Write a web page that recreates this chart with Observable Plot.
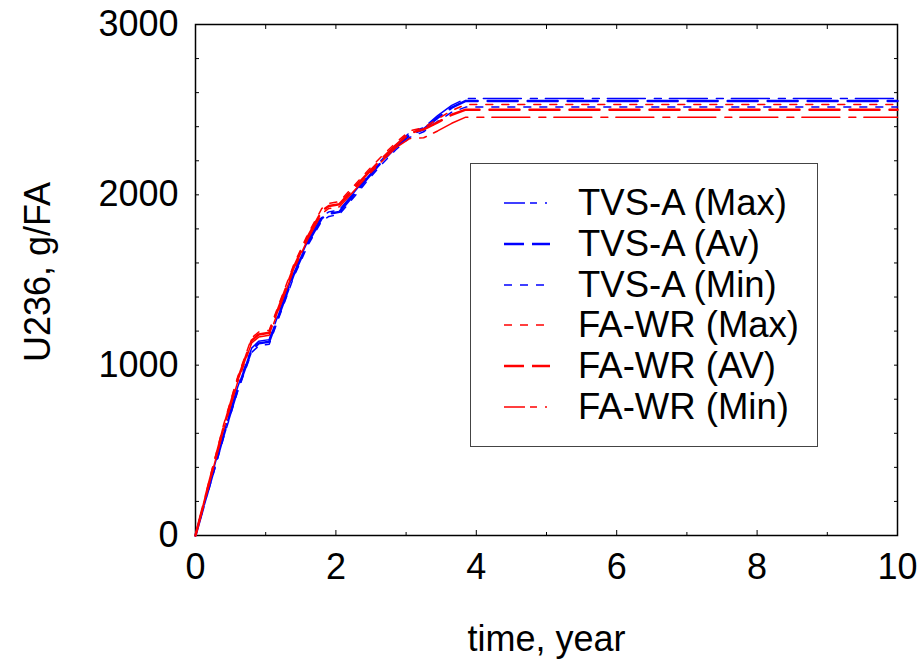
<!DOCTYPE html>
<html><head><meta charset="utf-8">
<script src="https://cdn.jsdelivr.net/npm/d3@7"></script>
<script src="https://cdn.jsdelivr.net/npm/@observablehq/plot@0.6"></script>
<style>
body{margin:0;background:#fff;font-family:"Liberation Sans",Arial,sans-serif;}
#wrap{position:relative;width:919px;height:661px;overflow:hidden;}
#legend{position:absolute;left:470px;top:163px;width:348px;height:284px;border:1.5px solid #444;background:#fff;box-sizing:border-box;}
.row{position:absolute;left:0;height:40px;display:flex;align-items:center;}
.row svg{margin-left:33px;display:block}
.row span{margin-left:26px;font-size:36.5px;color:#000;line-height:40px;white-space:nowrap}
</style></head><body><div id="wrap"></div>
<script>
const times   = [0, 0.2, 0.4, 0.6, 0.8, 0.9, 1.05, 1.2, 1.4, 1.6, 1.8, 1.9, 2.05, 2.25, 2.45, 2.65, 2.85, 3.05, 3.25, 3.45, 3.65, 3.85, 10];
const tvsMax  = [0, 305, 600, 870, 1100, 1140, 1150, 1320, 1545, 1730, 1875, 1900, 1912, 2010, 2110, 2205, 2290, 2365, 2395, 2465, 2525, 2565, 2565];
const tvsAv   = [0, 295, 588, 858, 1088, 1128, 1138, 1308, 1533, 1718, 1863, 1888, 1900, 1998, 2098, 2193, 2278, 2352, 2385, 2452, 2512, 2551, 2551];
const tvsMin  = [0, 285, 575, 845, 1075, 1113, 1123, 1293, 1518, 1703, 1848, 1873, 1885, 1983, 2083, 2178, 2263, 2337, 2370, 2432, 2485, 2515, 2515];
const fawrMax = [0, 330, 650, 930, 1160, 1195, 1205, 1370, 1590, 1770, 1920, 1950, 1960, 2050, 2140, 2225, 2305, 2375, 2395, 2445, 2495, 2530, 2530];
const fawrAv  = [0, 320, 635, 915, 1145, 1180, 1190, 1355, 1575, 1755, 1905, 1935, 1945, 2035, 2125, 2210, 2290, 2362, 2385, 2425, 2470, 2500, 2500];
const fawrMin = [0, 312, 622, 900, 1130, 1165, 1175, 1340, 1560, 1740, 1890, 1920, 1930, 2020, 2110, 2195, 2275, 2330, 2335, 2375, 2420, 2456, 2456];
const seriesNames = ["TVS-A (Max)", "TVS-A (Av)", "TVS-A (Min)", "FA-WR (Max)", "FA-WR (AV)", "FA-WR (Min)"];
const xMajorTicks = [0, 2, 4, 6, 8, 10];
const xMinorTicks = [1, 3, 5, 7, 9];
const yMajorTicks = [0, 1000, 2000, 3000];
const yMinorTicks = [200, 400, 600, 800, 1200, 1400, 1600, 1800, 2200, 2400, 2600, 2800];
const xLabel = "time, year";
const yLabel = "U236, g/FA";

const seriesValues = [tvsMax, tvsAv, tvsMin, fawrMax, fawrAv, fawrMin];
const styles = [
  {stroke: "#0000ff", strokeWidth: 1.5, dash: "38,9,7,8", legendDash: "21,5,7,8,2,20"},
  {stroke: "#0000ff", strokeWidth: 2.5, dash: "30,10", legendDash: "20,8,18"},
  {stroke: "#0000ff", strokeWidth: 1.5, dash: "7,9", legendDash: "8,8"},
  {stroke: "#ff0000", strokeWidth: 1.5, dash: "7,9", legendDash: "8,8"},
  {stroke: "#ff0000", strokeWidth: 2.5, dash: "30,10", legendDash: "20,8,18"},
  {stroke: "#ff0000", strokeWidth: 1.5, dash: "38,9,7,8", legendDash: "21,5,7,8,2,20"}
];
const data = seriesValues.map(vals => times.map((t, i) => ({t, v: vals[i]})));

const noText = () => "";
const fs = 36;
const chart = Plot.plot({
  width: 919, height: 661,
  marginLeft: 195, marginRight: 22, marginTop: 24, marginBottom: 126,
  x: {domain: [0, 10], label: null},
  y: {domain: [0, 3000], label: null},
  style: {fontFamily: "'Liberation Sans', Arial, sans-serif", fontSize: fs + "px", color: "black", background: "white", overflow: "visible"},
  marks: [
    Plot.axisX(xMinorTicks, {tickSize: -3, tickFormat: noText, label: null}),
    Plot.axisX(xMajorTicks, {tickSize: -5, tickFormat: noText, label: null}),
    Plot.axisX(xMajorTicks, {tickSize: 0, tickPadding: 18, label: null, fontSize: fs, tickFormat: d3.format("d")}),
    Plot.axisX(xMinorTicks.concat(xMajorTicks), {anchor: "top", tickSize: -4, tickFormat: noText, label: null}),
    Plot.axisY(yMinorTicks.concat(yMajorTicks), {tickSize: -4, tickFormat: noText, label: null}),
    Plot.axisY(yMajorTicks, {tickSize: 0, tickPadding: 17, label: null, fontSize: fs, tickFormat: d3.format("d")}),
    Plot.axisY(yMinorTicks.concat(yMajorTicks), {anchor: "right", tickSize: -4, tickFormat: noText, label: null}),
    Plot.frame({stroke: "black", strokeWidth: 1.5}),
    ...data.map((d, i) => Plot.line(d, {x: "t", y: "v", stroke: styles[i].stroke, strokeWidth: styles[i].strokeWidth, strokeDasharray: styles[i].dash})),
    Plot.text([yLabel], {text: d => d, frameAnchor: "left", dx: -157, dy: -8, rotate: -90, textAnchor: "middle", lineAnchor: "middle", fontSize: fs}),
    Plot.text([xLabel], {text: d => d, frameAnchor: "bottom", dy: 104, textAnchor: "middle", lineAnchor: "middle", fontSize: fs})
  ]
});
const wrap = document.getElementById("wrap");
wrap.appendChild(chart);

const legend = document.createElement("div");
legend.id = "legend";
seriesNames.forEach((name, i) => {
  const row = document.createElement("div");
  row.className = "row";
  row.style.top = (19 + i * 40.8) + "px";
  const s = styles[i];
  row.innerHTML = `<svg width="48" height="10"><line x1="0" y1="5" x2="47" y2="5" stroke="${s.stroke}" stroke-width="${s.strokeWidth}" stroke-dasharray="${s.legendDash}"/></svg><span>${name}</span>`;
  legend.appendChild(row);
});
wrap.appendChild(legend);
</script>
</body></html>
